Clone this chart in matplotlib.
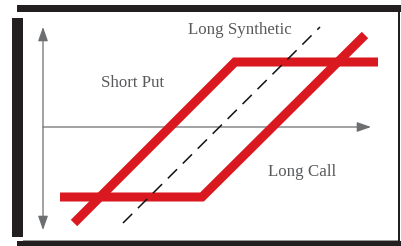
import matplotlib
matplotlib.use("Agg")
import matplotlib.pyplot as plt
from matplotlib.patches import Rectangle

# Payoff diagram data (x: underlying price, y: profit), origin at axes crossing
short_put_x = [3.1, 19.2, 33.5]
short_put_y = [-9.6, 6.5, 6.5]
long_call_x = [1.7, 15.9, 32.2]
long_call_y = [-7.0, -7.0, 9.2]
synthetic_x = [8.0, 27.7]
synthetic_y = [-9.6, 10.0]
labels = ["Long Synthetic", "Short Put", "Long Call"]
label_x = [14.5, 5.8, 22.5]
label_y = [9.3, 4.0, -4.9]

W, H = 401, 246
fig = plt.figure(figsize=(W / 100, H / 100), dpi=100)
fig.patch.set_facecolor("white")

frame_col = "#231f20"
def add_rect(x0, y0, x1, y1, color):
    fig.patches.append(Rectangle((x0 / W, 1 - y1 / H), (x1 - x0) / W, (y1 - y0) / H,
                                 transform=fig.transFigure, facecolor=color,
                                 edgecolor="none", zorder=0))
add_rect(17, 5, 401, 11.5, frame_col)      # top band
add_rect(12, 18, 23, 237, frame_col)       # left band
add_rect(17, 241, 401, 246, frame_col)     # bottom band
add_rect(398, 11, 400, 241, frame_col)     # right thin line
add_rect(23, 239.5, 398, 241, "#9a9a9a")   # thin gray bottom edge

ax = fig.add_axes([0, 0, 1, 1])
ax.set_xlim(-4.3, 35.8)
ax.set_ylim(-11.9, 12.7)
ax.axis("off")
ax.patch.set_alpha(0)

axis_col = "#6d6e70"
ax.annotate("", xy=(32.8, 0), xytext=(0, 0),
            arrowprops=dict(arrowstyle="-|>,head_length=0.85,head_width=0.3",
                            mutation_scale=10, color=axis_col, lw=0.9,
                            shrinkA=0, shrinkB=0), zorder=1)
ax.annotate("", xy=(0, 10.0), xytext=(0, -10.3),
            arrowprops=dict(arrowstyle="<|-|>,head_length=0.85,head_width=0.3",
                            mutation_scale=10, color=axis_col, lw=0.9,
                            shrinkA=0, shrinkB=0), zorder=1)

red = "#d9191f"
ax.plot(long_call_x, long_call_y, color=red, lw=6.5, solid_capstyle="butt",
        solid_joinstyle="miter", zorder=2)
ax.plot(short_put_x, short_put_y, color=red, lw=6.5, solid_capstyle="butt",
        solid_joinstyle="miter", zorder=2)
ln, = ax.plot(synthetic_x, synthetic_y, color="#111111", lw=1.1, zorder=3)
ln.set_dashes((8.5, 5.3))
ln.set_dash_capstyle("butt")

for t, x, y in zip(labels, label_x, label_y):
    ax.text(x, y, t, fontsize=12.2, family="Liberation Serif", color="#58595b",
            ha="left", va="baseline", zorder=4)

fig.savefig("out.png", dpi=100)
